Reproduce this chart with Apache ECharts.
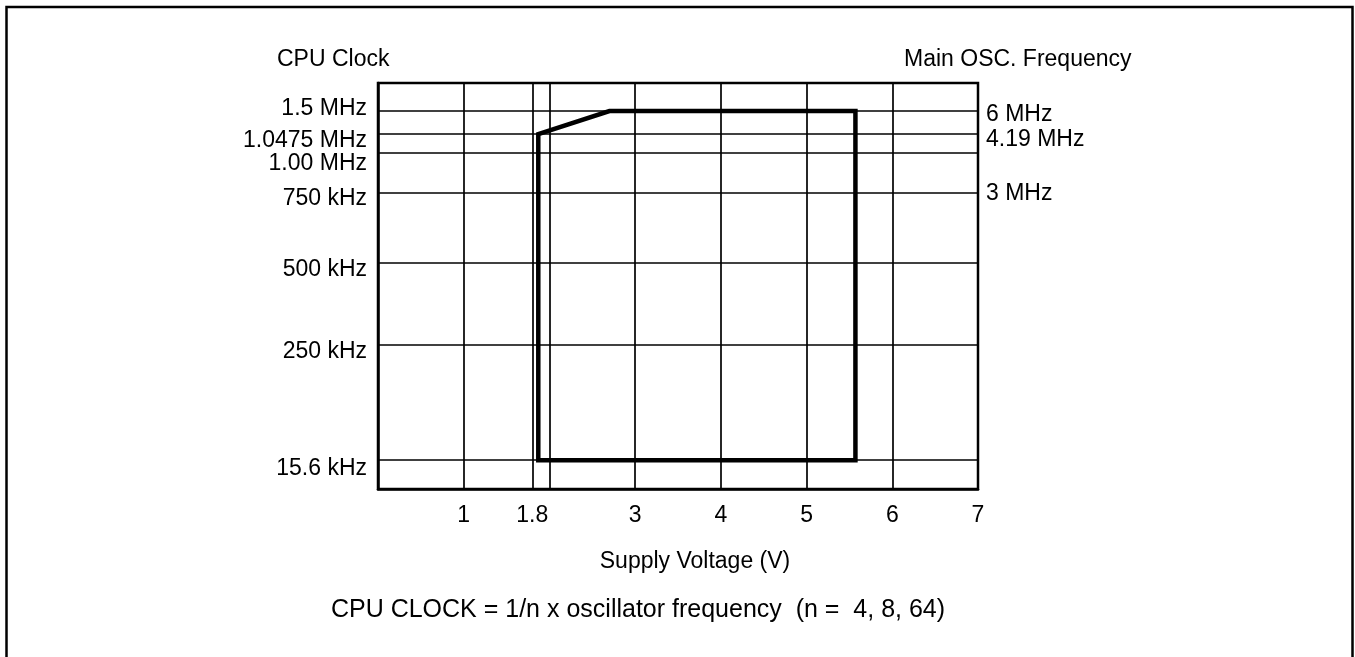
<!DOCTYPE html>
<html>
<head>
<meta charset="utf-8">
<style>
  html, body { margin: 0; padding: 0; background: #fff; }
  #chart { width: 1355px; height: 657px; }
</style>
<script src="https://cdn.jsdelivr.net/npm/echarts@6/dist/echarts.min.js"></script>
</head>
<body>
<div id="chart"></div>
<script>
// supply voltage ticks (V); the tick at 2 V has no label in the figure
const voltageTicks = [1, 1.8, 2, 3, 4, 5, 6, 7]
const voltageLabels = ['1', '1.8', '', '3', '4', '5', '6', '7']

// CPU clock axis is schematic: each frequency sits at its own level (0..100 of the axis)
const cpuClockLabels = ['15.6 kHz', '250 kHz', '500 kHz', '750 kHz', '1.00 MHz', '1.0475 MHz', '1.5 MHz']
const cpuClockLevels = [7.1, 35.5, 55.7, 72.9, 82.8, 87.4, 93.1]

// main oscillator frequency (= 4 x CPU clock) shown on the right side
const oscLabels = ['3 MHz', '4.19 MHz', '6 MHz']
const oscClock = ['750 kHz', '1.0475 MHz', '1.5 MHz']

// operating area boundary
const boundaryVoltage = [1.87, 1.87, 2.7, 5.57, 5.57, 1.87]
const boundaryClock = ['15.6 kHz', '1.0475 MHz', '1.5 MHz', '1.5 MHz', '15.6 kHz', '15.6 kHz']

const FONT = '"Liberation Sans", Arial, Helvetica, sans-serif'
const FS = 23

const levelOf = (label) => cpuClockLevels[cpuClockLabels.indexOf(label)]
const oscLevels = oscClock.map(levelOf)

// small vertical nudges of the labels relative to their grid line (px, + = down)
const cpuLabelShift = [8, 7, 7, 6, 10.5, 6.5, -2]
const oscLabelShift = [1, 6, 3.5]

const richFor = (shifts) => {
  const rich = {}
  shifts.forEach((d, i) => {
    rich['s' + i] = {
      fontFamily: FONT,
      fontSize: FS,
      color: '#000',
      padding: d >= 0 ? [2 * d, 0, 0, 0] : [0, 0, -2 * d, 0]
    }
  })
  return rich
}

const chart = echarts.init(document.getElementById('chart'))

chart.setOption({
  animation: false,
  backgroundColor: '#fff',
  title: [
    {
      text: 'CPU Clock',
      left: 277,
      top: 48,
      padding: 0,
      textStyle: { fontFamily: FONT, fontSize: FS, fontWeight: 'normal', color: '#000' }
    },
    {
      text: 'Main OSC. Frequency',
      left: 904,
      top: 48,
      padding: 0,
      textStyle: { fontFamily: FONT, fontSize: FS, fontWeight: 'normal', color: '#000' }
    }
  ],
  graphic: [
    {
      // outer frame (bottom edge falls outside the picture)
      type: 'rect',
      shape: { x: 6.5, y: 7, width: 1346, height: 720 },
      style: { fill: 'none', stroke: '#000', lineWidth: 2.5 },
      silent: true
    },
    {
      type: 'text',
      x: 638,
      y: 610,
      style: {
        text: 'CPU CLOCK = 1/n x oscillator frequency  (n =  4, 8, 64)',
        font: '25px ' + FONT,
        fill: '#000',
        align: 'center',
        verticalAlign: 'middle'
      },
      silent: true
    }
  ],
  grid: {
    left: 378,
    right: 377,
    top: 83,
    bottom: 168,
    show: true,
    borderColor: '#000',
    borderWidth: 2.5,
    backgroundColor: 'transparent'
  },
  xAxis: {
    type: 'value',
    min: 0,
    max: 7,
    name: 'Supply Voltage (V)',
    nameLocation: 'middle',
    nameGap: 61,
    nameTextStyle: {
      fontFamily: FONT,
      fontSize: FS,
      color: '#000',
      padding: [0, 0, 0, 34]
    },
    axisLine: { show: true, lineStyle: { color: '#000', width: 2.5 } },
    axisTick: { show: false, customValues: voltageTicks },
    axisLabel: {
      customValues: voltageTicks,
      margin: 15,
      fontFamily: FONT,
      fontSize: FS,
      color: '#000',
      formatter: (v) => voltageLabels[voltageTicks.indexOf(v)] ?? ''
    },
    splitLine: { show: true, lineStyle: { color: '#000', width: 1.7 } }
  },
  yAxis: [
    {
      type: 'value',
      min: 0,
      max: 100,
      position: 'left',
      axisLine: { show: true, lineStyle: { color: '#000', width: 2.5 } },
      axisTick: { show: false, customValues: cpuClockLevels },
      axisLabel: {
        customValues: cpuClockLevels,
        margin: 11,
        fontFamily: FONT,
        fontSize: FS,
        color: '#000',
        formatter: (v) => {
          const i = cpuClockLevels.indexOf(v)
          return i < 0 ? '' : `{s${i}|${cpuClockLabels[i]}}`
        },
        rich: richFor(cpuLabelShift)
      },
      splitLine: { show: true, lineStyle: { color: '#000', width: 1.7 } }
    },
    {
      type: 'value',
      min: 0,
      max: 100,
      position: 'right',
      axisLine: { show: false },
      axisTick: { show: false, customValues: oscLevels },
      axisLabel: {
        customValues: oscLevels,
        margin: 8,
        fontFamily: FONT,
        fontSize: FS,
        color: '#000',
        formatter: (v) => {
          const i = oscLevels.indexOf(v)
          return i < 0 ? '' : `{s${i}|${oscLabels[i]}}`
        },
        rich: richFor(oscLabelShift)
      },
      splitLine: { show: false }
    }
  ],
  series: [
    {
      name: 'Operating area',
      type: 'line',
      data: boundaryVoltage.map((v, i) => [v, levelOf(boundaryClock[i])]),
      symbol: 'none',
      z: 10,
      lineStyle: { color: '#000', width: 4.5, join: 'miter', cap: 'square' }
    }
  ]
})
</script>
</body>
</html>
